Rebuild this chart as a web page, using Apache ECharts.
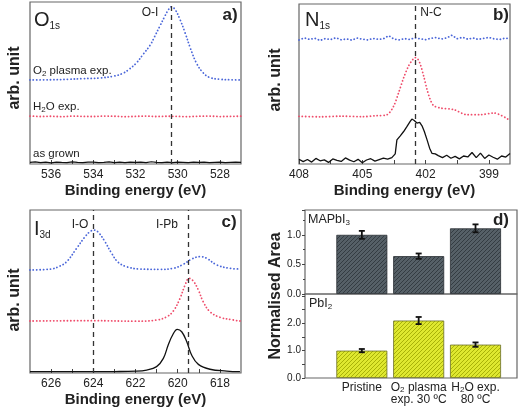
<!DOCTYPE html>
<html><head><meta charset="utf-8">
<script src="https://cdn.jsdelivr.net/npm/echarts@6/dist/echarts.min.js"></script>
<style>html,body{margin:0;padding:0;background:#fff}#c{width:520px;height:411px}</style>
</head><body><div id="c"></div>
<script>
// ---------- Panel a: O1s ----------
const aGrownE = [537,536.75,536.5,536.25,536,535.75,535.5,535.25,535,534.75,534.5,534.25,534,533.75,533.5,533.25,533,532.75,532.5,532.25,532,531.75,531.5,531.25,531,530.75,530.5,530.25,530,529.75,529.5,529.25,529,528.75,528.5,528.25,528,527.75,527.5,527.25,527];
const aGrown = [1.0,1.3,0.8,1.1,0.7,1.2,1.0,0.9,1.3,1.0,0.8,1.1,1.2,0.9,1.0,1.3,0.9,1.1,0.8,1.2,1.0,1.1,0.9,1.4,1.0,0.8,1.1,0.9,1.2,1.0,0.8,1.1,1.0,1.2,0.9,1.0,1.1,0.8,1.0,1.2,1.0];
const aH2OE = [537,536.5,536,535.5,535,534.5,534,533.5,533,532.5,532,531.5,531,530.5,530,529.5,529,528.5,528,527.5,527];
const aH2O = [29.6,29.3,29.5,29.2,29.6,29.4,29.3,29.6,29.5,29.2,29.4,29.6,29.3,29.5,29.4,29.2,29.5,29.6,29.3,29.4,29.5];
const aO2E = [537,536,535.2,534.5,533.7,533.0,532.6,532.3,531.95,531.65,531.3,531.1,530.85,530.6,530.45,530.3,530.13,529.9,529.65,529.4,529.1,528.8,528.5,528.0,527.5,527.0];
const aO2 = [51.9,52.0,52.3,52.7,53.1,54.3,56.0,58.5,62.5,67.5,73.5,78.5,85.0,91.5,95.0,97.0,95.5,89.5,81.0,71.5,62.0,56.4,53.5,52.3,52.0,51.9];
const aLine = [530.3];
const aTicks = [528,529,530,531,532,533,534,535,536];
const aLabels = [528,530,532,534,536];

// ---------- Panel b: N1s ----------
const bBlueE = [408,407.75,407.5,407.25,407,406.75,406.5,406.25,406,405.75,405.5,405.25,405,404.75,404.5,404.25,404,403.75,403.5,403.25,403,402.75,402.5,402.25,402,401.75,401.5,401.25,401,400.75,400.5,400.25,400,399.75,399.5,399.25,399,398.75,398.5,398.25,398];
const bBlue = [77.5,78.8,77.9,78.6,77.2,78.4,77.8,78.9,77.6,78.2,77.4,78.7,78.0,77.5,78.5,77.9,78.3,80.2,78.1,77.6,78.4,77.8,78.9,78.2,77.7,78.6,79.0,78.1,78.8,80.5,78.3,79.2,78.0,78.7,77.9,78.5,79.1,78.2,77.8,78.6,78.3];
const bRedE = [408,407,406,405,404.3,403.83,403.52,403.28,403.04,402.81,402.6,402.49,402.38,402.25,402.09,401.93,401.78,401.62,401.3,400.67,400.03,399.4,398.77,398.06];
const bRed = [29.8,29.5,29.9,29.6,30.2,30.8,36.0,44.5,53.9,61.2,65.4,66.5,65.8,62.3,54.9,46.5,40.3,36.5,35.0,34.0,30.8,30.8,31.9,27.7];
const bBlackE = [408.0,407.8,407.6,407.4,407.2,407.0,406.8,406.6,406.4,406.2,406.0,405.8,405.6,405.4,405.2,405.0,404.8,404.6,404.4,404.2,404.0,403.8,403.6,
  403.52,403.44,403.36,403.2,403.04,402.88,402.73,402.65,402.54,402.41,402.28,402.17,402.06,401.93,401.81,401.7,401.54,
  401.4,401.2,401.0,400.8,400.6,400.4,400.2,400.0,399.8,399.6,399.4,399.2,399.0,398.8,398.6,398.4,398.2,398.0];
const bBlack = [3.0,1.5,2.8,1.2,3.5,2.0,2.6,1.0,3.2,2.2,1.6,3.8,2.4,1.4,2.9,0.8,2.5,3.3,1.8,2.7,3.6,3.0,4.0,
  5.0,6.3,15.1,17.6,20.3,23.5,26.6,28.1,27.2,25.6,26.0,23.9,20.3,15.1,9.9,6.7,6.3,
  5.2,4.0,5.5,3.6,4.8,3.2,5.0,4.4,7.2,4.0,6.8,3.5,5.6,4.2,3.0,5.0,4.3,6.5];
const bLine = [402.5];
const bTicks = [399,400.5,402,403.5,405,406.5,408];
const bLabels = [399,402,405,408];

// ---------- Panel c: I3d ----------
const cBlueE = [627,626,625.6,625.26,624.79,624.39,624.15,623.97,623.76,623.45,623.13,622.82,622.42,621.79,620.84,620.21,619.73,619.34,618.94,618.63,618.15,617.52,617.05];
const cBlue = [63.2,63.8,65.5,68.3,76.5,83.6,86.8,87.7,86.3,80.6,73.4,67.9,65.2,63.8,63.6,64.2,66.7,69.9,71.4,70.4,66.3,64.2,63.8];
const cRedE = [627,624,622,621.0,620.52,620.21,619.89,619.65,619.46,619.26,619.02,618.79,618.47,618.0,617.36,617.05];
const cRed = [31.9,32.1,31.8,32.5,34.5,38.0,45.8,54.0,58.1,56.4,50.9,43.7,37.6,34.2,32.5,31.9];
const cBlackE = [627,625,623,622,621.47,621.0,620.68,620.45,620.24,620.02,619.81,619.57,619.34,619.02,618.47,617.68,617.05];
const cBlack = [0.8,0.8,0.9,1.1,1.8,3.9,9.0,17.2,23.3,26.8,25.3,19.2,11.0,5.3,2.3,1.2,0.8];
const cLines = [624, 619.5];
const cTicks = [618,619,620,621,622,623,624,625,626];
const cLabels = [618,620,622,624,626];

// ---------- Panel d: normalised area ----------
const dCats = ['Pristine', 'O2 plasma\nexp. 30 ºC', 'H2O exp.\n80 ºC'];
const dPos = [1, 2, 3];
const dMA = [1.0, 0.64, 1.11];
const dMAErr = [0.067, 0.045, 0.067];
const dPb = [1.0, 2.1, 1.22];
const dPbErr = [0.06, 0.13, 0.08];

const FONT = 'Liberation Sans, Arial, Helvetica, sans-serif';
const TXT = '#222';
const BLUE = '#4a66d9', RED = '#ef4d6b', BLACK = '#111';

function pairs(xs, ys){ return xs.map((x,i)=>[x, ys[i]]); }

function hatch(bg, fg){
  const c = document.createElement('canvas'); c.width = 4; c.height = 4;
  const g = c.getContext('2d'); g.fillStyle = bg; g.fillRect(0,0,4,4);
  g.strokeStyle = fg; g.lineWidth = 1;
  g.beginPath(); g.moveTo(0,4); g.lineTo(4,0); g.moveTo(-1,1); g.lineTo(1,-1); g.moveTo(3,5); g.lineTo(5,3); g.stroke();
  return c;
}

function xSpec(idx, min, max, ticks, labels){
  return {type:'value', gridIndex: idx, min, max, inverse: true,
    axisLine:{show:false}, splitLine:{show:false},
    axisTick:{show:true, inside:true, length:4, customValues: ticks, lineStyle:{color:'#444'}},
    axisLabel:{customValues: labels, fontSize:12, color:TXT, margin:5, fontFamily:FONT},
    name:'Binding energy (eV)', nameLocation:'middle', nameGap:19,
    nameTextStyle:{fontSize:15, fontWeight:'bold', color:TXT, fontFamily:FONT}};
}
function ySpec(idx){ return {type:'value', gridIndex: idx, min:0, max:100, show:false}; }

const dotted = (color)=>({color, width:1.8, type:[0.1,3.3], cap:'round'});
const dash = {color:'#333', type:[5,4], width:1.3};
function mark(vals){ return {silent:true, symbol:'none', label:{show:false}, lineStyle:dash, data: vals.map(v=>({xAxis:v}))}; }

function errItem(params, api){
  const x = api.value(0), lo = api.value(1), hi = api.value(2);
  const p1 = api.coord([x, lo]), p2 = api.coord([x, hi]);
  const w = 3, st = {stroke:'#111', lineWidth:1.8};
  return {type:'group', children:[
    {type:'line', shape:{x1:p1[0],y1:p1[1],x2:p2[0],y2:p2[1]}, style:st},
    {type:'line', shape:{x1:p1[0]-w,y1:p1[1],x2:p1[0]+w,y2:p1[1]}, style:st},
    {type:'line', shape:{x1:p2[0]-w,y1:p2[1],x2:p2[0]+w,y2:p2[1]}, style:st}]};
}

const gridBase = {show:true, borderColor:'#666', borderWidth:1.2, backgroundColor:'transparent'};
const subRich = {
  n:{fontSize:11.5, lineHeight:14, fill:TXT, fontFamily:FONT},
  s:{fontSize:8, lineHeight:8, verticalAlign:'bottom', fill:TXT, fontFamily:FONT}
};
const bigRich = {
  n:{fontSize:20, lineHeight:22, fill:TXT, fontFamily:FONT},
  s:{fontSize:10, lineHeight:11, verticalAlign:'bottom', fill:TXT, fontFamily:FONT}
};
function txt(x, y, text, opt){
  return Object.assign({type:'text', x, y, silent:true,
    style:Object.assign({text, fill:TXT, fontFamily:FONT, fontSize:12, align:'left', verticalAlign:'middle'}, opt||{})});
}
const sub = s => '{n|' + s.replace(/([OH])2/g, '$1}{s|2}{n|') + '}';

const option = {
  animation:false,
  textStyle:{fontFamily:FONT},
  grid:[
    Object.assign({left:30, top:2, width:211, height:162}, gridBase),
    Object.assign({left:299, top:4, width:211, height:160}, gridBase),
    Object.assign({left:30, top:210, width:211, height:163}, gridBase),
    Object.assign({left:305, top:210, width:212, height:84}, gridBase),
    Object.assign({left:305, top:294, width:212, height:84}, gridBase)
  ],
  xAxis:[
    xSpec(0, 527, 537, aTicks, aLabels),
    xSpec(1, 398, 408, bTicks, bLabels),
    xSpec(2, 617, 627, cTicks, cLabels),
    {type:'value', gridIndex:3, min:0, max:3.73, show:false},
    {type:'value', gridIndex:4, min:0, max:3.73, axisLine:{show:false}, axisTick:{show:false}, splitLine:{show:false},
     axisLabel:{customValues: dPos, margin:4, fontSize:12, lineHeight:12, color:TXT, fontFamily:FONT,
       formatter: v => { const i = dPos.indexOf(v); return i < 0 ? '' : dCats[i].replace(/([OH])2/g, '$1{s|2}'); },
       rich:{s:{fontSize:8, lineHeight:8, verticalAlign:'bottom', color:TXT, fontFamily:FONT}}}}
  ],
  yAxis:[
    ySpec(0), ySpec(1), ySpec(2),
    {type:'value', gridIndex:3, min:0, max:1.42, interval:0.5, axisLine:{show:false}, splitLine:{show:false},
     axisTick:{show:true, length:3, lineStyle:{color:'#444'}}, minorTick:{show:true, splitNumber:2, length:2, lineStyle:{color:'#444'}},
     axisLabel:{fontSize:10, color:TXT, margin:4, formatter: v => v.toFixed(1), showMaxLabel:false}},
    {type:'value', gridIndex:4, min:0, max:3.07, axisLine:{show:false}, splitLine:{show:false},
     axisTick:{show:true, length:3, customValues:[0,0.5,1,1.5,2,2.5,3], lineStyle:{color:'#444'}},
     axisLabel:{fontSize:10, color:TXT, margin:4, customValues:[0,1,2], formatter: v => v.toFixed(1)}}
  ],
  series:[
    {type:'line', xAxisIndex:0, yAxisIndex:0, data:pairs(aGrownE, aGrown), showSymbol:false, lineStyle:{color:BLACK, width:1.2}},
    {type:'line', xAxisIndex:0, yAxisIndex:0, data:pairs(aH2OE, aH2O), showSymbol:false, lineStyle:dotted(RED)},
    {type:'line', xAxisIndex:0, yAxisIndex:0, data:pairs(aO2E, aO2), showSymbol:false, smooth:0.4, lineStyle:dotted(BLUE), markLine:mark(aLine)},

    {type:'line', xAxisIndex:1, yAxisIndex:1, data:pairs(bBlackE, bBlack), showSymbol:false, lineStyle:{color:BLACK, width:1.3}},
    {type:'line', xAxisIndex:1, yAxisIndex:1, data:pairs(bRedE, bRed), showSymbol:false, smooth:0.3, lineStyle:dotted(RED)},
    {type:'line', xAxisIndex:1, yAxisIndex:1, data:pairs(bBlueE, bBlue), showSymbol:false, lineStyle:dotted(BLUE), markLine:mark(bLine)},

    {type:'line', xAxisIndex:2, yAxisIndex:2, data:pairs(cBlackE, cBlack), showSymbol:false, smooth:0.4, lineStyle:{color:BLACK, width:1.3}},
    {type:'line', xAxisIndex:2, yAxisIndex:2, data:pairs(cRedE, cRed), showSymbol:false, smooth:0.4, lineStyle:dotted(RED)},
    {type:'line', xAxisIndex:2, yAxisIndex:2, data:pairs(cBlueE, cBlue), showSymbol:false, smooth:0.4, lineStyle:dotted(BLUE), markLine:mark(cLines)},

    {type:'bar', xAxisIndex:3, yAxisIndex:3, data:pairs(dPos, dMA), barWidth:51,
     itemStyle:{color:{image:hatch('#566067','#343c42'), repeat:'repeat'}, borderColor:'#2a2f33', borderWidth:0.8}},
    {type:'custom', xAxisIndex:3, yAxisIndex:3, renderItem:errItem, encode:{x:0, y:[1,2]},
     data: dPos.map((x,i)=>[x, dMA[i]-dMAErr[i], dMA[i]+dMAErr[i]]), z:5},
    {type:'bar', xAxisIndex:4, yAxisIndex:4, data:pairs(dPos, dPb), barWidth:51,
     itemStyle:{color:{image:hatch('#dfe830','#a9b208'), repeat:'repeat'}, borderColor:'#6b6f2a', borderWidth:0.8}},
    {type:'custom', xAxisIndex:4, yAxisIndex:4, renderItem:errItem, encode:{x:0, y:[1,2]},
     data: dPos.map((x,i)=>[x, dPb[i]-dPbErr[i], dPb[i]+dPbErr[i]]), z:5}
  ],
  graphic:[
    // panel a
    txt(34, 20, '{n|O}{s|1s}', {rich:bigRich}),
    txt(150, 13, 'O-I', {align:'center', fontSize:12}),
    txt(230, 15, 'a)', {align:'center', fontSize:17, fontWeight:'bold'}),
    txt(33, 71, sub('O2 plasma exp.'), {rich:subRich}),
    txt(33, 107, sub('H2O exp.'), {rich:subRich}),
    txt(33, 154, 'as grown', {fontSize:11.5}),
    {type:'text', x:15, y:78, rotation:Math.PI/2, silent:true,
     style:{text:'arb. unit', fontSize:16, fontWeight:'bold', fill:TXT, fontFamily:FONT, align:'center', verticalAlign:'middle'}},
    // panel b
    txt(305, 20, '{n|N}{s|1s}', {rich:bigRich}),
    txt(431, 13, 'N-C', {align:'center', fontSize:12}),
    txt(501, 15, 'b)', {align:'center', fontSize:17, fontWeight:'bold'}),
    {type:'text', x:276, y:80, rotation:Math.PI/2, silent:true,
     style:{text:'arb. unit', fontSize:16, fontWeight:'bold', fill:TXT, fontFamily:FONT, align:'center', verticalAlign:'middle'}},
    // panel c
    txt(34, 229, '{n|I}{s|3d}', {rich:bigRich}),
    txt(80, 225, 'I-O', {align:'center', fontSize:12}),
    txt(167, 225, 'I-Pb', {align:'center', fontSize:12}),
    txt(229, 222, 'c)', {align:'center', fontSize:17, fontWeight:'bold'}),
    {type:'text', x:15, y:300, rotation:Math.PI/2, silent:true,
     style:{text:'arb. unit', fontSize:16, fontWeight:'bold', fill:TXT, fontFamily:FONT, align:'center', verticalAlign:'middle'}},
    // panel d
    txt(308, 220, '{m|MAPbI}{t|3}', {rich:{m:{fontSize:12.5, lineHeight:14, fill:TXT, fontFamily:FONT}, t:{fontSize:8, lineHeight:8, verticalAlign:'bottom', fill:TXT, fontFamily:FONT}}}),
    txt(501, 220, 'd)', {align:'center', fontSize:17, fontWeight:'bold'}),
    txt(309, 304, '{m|PbI}{t|2}', {rich:{m:{fontSize:12.5, lineHeight:14, fill:TXT, fontFamily:FONT}, t:{fontSize:8, lineHeight:8, verticalAlign:'bottom', fill:TXT, fontFamily:FONT}}}),
    {type:'text', x:276, y:296, rotation:Math.PI/2, silent:true,
     style:{text:'Normalised Area', fontSize:16, fontWeight:'bold', fill:TXT, fontFamily:FONT, align:'center', verticalAlign:'middle'}}
  ]
};

const chart = echarts.init(document.getElementById('c'), null, {renderer:'canvas'});
chart.setOption(option);
</script>
</body></html>
